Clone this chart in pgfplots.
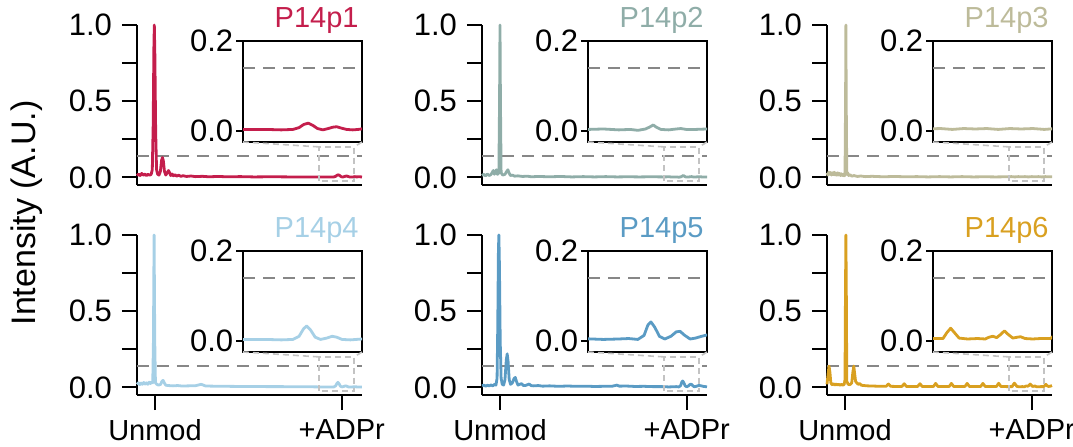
\documentclass[border=0pt]{standalone}
\usepackage{fontspec}
\setmainfont{Liberation Sans}
\usepackage{pgfplots}
\pgfplotsset{compat=1.18}
\usepackage{pgfplotstable}

\definecolor{cA}{RGB}{196,30,76}
\definecolor{cB}{RGB}{143,173,168}
\definecolor{cC}{RGB}{189,187,154}
\definecolor{cD}{RGB}{166,208,230}
\definecolor{cE}{RGB}{90,155,196}
\definecolor{cF}{RGB}{217,160,32}
\definecolor{dashgray}{RGB}{135,135,135}
\definecolor{zoomgray}{RGB}{195,195,195}

\pgfplotstableread{
x y
0 0.012
0.7 0.022
1.4 0.012
2.1 0.026
2.8 0.014
3.5 0.022
4.2 0.012
4.9 0.02
5.6 0.014
6.3 0.02
6.8 0.05
7.2 0.35
7.5 0.85
7.7 1.0
7.95 0.8
8.3 0.3
8.7 0.05
9.2 0.02
9.8 0.015
10.4 0.04
10.9 0.11
11.3 0.13
11.7 0.11
12.2 0.04
12.8 0.015
13.4 0.03
14.0 0.045
14.5 0.03
15.0 0.012
15.6 0.022
16.2 0.01
16.9 0.018
17.6 0.008
18.5 0.014
19.5 0.007
20.5 0.011
22 0.006
24 0.009
26 0.005
29 0.007
32 0.004
36 0.006
40 0.004
46 0.005
52 0.003
60 0.004
68 0.003
76 0.003
81 0.003
84 0.003
86 0.002
87.5 0.003
88.3 0.007
88.9 0.014
89.5 0.017
90.1 0.012
90.7 0.005
91.4 0.002
92.1 0.005
92.7 0.008
93.2 0.009
93.8 0.006
94.5 0.003
95.3 0.002
96 0.003
96.8 0.005
97.5 0.003
98.5 0.004
100 0.003
}\tA

\pgfplotstableread{
x y
0 0.012
0.8 0.02
1.6 0.01
2.4 0.022
3.2 0.012
3.9 0.018
4.5 0.03
5.0 0.045
5.5 0.02
6.0 0.04
6.4 0.05
6.9 0.02
7.5 0.03
7.8 0.5
8.0 1.0
8.2 0.5
8.5 0.03
9.2 0.015
10.2 0.02
11.0 0.04
11.5 0.05
12.0 0.03
12.6 0.012
13.5 0.015
14.5 0.008
16 0.01
18 0.006
20 0.008
22 0.004
25 0.006
30 0.004
35 0.006
40 0.003
45 0.005
50 0.003
55 0.005
60 0.003
65 0.004
70 0.003
75 0.004
81 0.003
83 0.004
85 0.002
86.5 0.003
87.5 0.001
88.5 0.004
89.1 0.009
89.5 0.013
89.9 0.008
90.5 0.003
91.5 0.002
92.5 0.004
93.1 0.005
93.8 0.003
95 0.003
96.5 0.004
98 0.003
100 0.003
}\tB

\pgfplotstableread{
x y
0 0.03
0.4 0.015
0.8 0.035
1.2 0.02
1.6 0.032
2.0 0.015
2.4 0.03
2.8 0.018
3.2 0.034
3.6 0.016
4.0 0.028
4.4 0.014
4.8 0.03
5.2 0.016
5.6 0.026
6.0 0.012
6.4 0.024
6.8 0.012
7.2 0.02
7.6 0.01
8.0 0.015
8.25 0.5
8.4 1.0
8.55 0.5
8.8 0.02
9.2 0.03
9.6 0.012
10.2 0.018
11 0.008
12 0.012
13.5 0.006
15 0.009
17 0.005
20 0.007
25 0.004
30 0.006
35 0.004
40 0.005
45 0.003
50 0.005
55 0.003
60 0.005
65 0.003
70 0.004
75 0.003
80 0.004
82 0.005
83.5 0.003
85 0.005
86.5 0.004
88 0.005
89.5 0.003
91 0.005
92.5 0.004
94 0.005
95.5 0.003
97 0.005
98.5 0.004
100 0.004
}\tC

\pgfplotstableread{
x y
0 0.02
0.6 0.03
1.2 0.018
1.8 0.028
2.4 0.02
3.0 0.032
3.6 0.022
4.2 0.03
4.8 0.02
5.4 0.034
6.0 0.025
6.5 0.035
7.0 0.03
7.3 0.3
7.6 1.0
7.9 0.3
8.2 0.03
8.8 0.02
9.6 0.015
10.5 0.02
11.1 0.04
11.6 0.046
12.1 0.03
12.8 0.014
14 0.012
16 0.01
18 0.012
20 0.009
23 0.01
26 0.011
28.5 0.02
29.3 0.016
30.5 0.009
34 0.008
40 0.007
46 0.006
52 0.006
58 0.005
64 0.005
70 0.004
76 0.004
81 0.003
84 0.003
86 0.002
87.5 0.003
88.3 0.01
88.9 0.027
89.3 0.033
89.8 0.024
90.4 0.008
91.1 0.003
91.9 0.006
92.6 0.01
93.2 0.008
93.9 0.003
95 0.002
96.5 0.004
98 0.003
100 0.003
}\tD

\pgfplotstableread{
x y
0 0.01
0.8 0.015
1.6 0.008
2.4 0.014
3.2 0.01
4.0 0.016
4.8 0.01
5.6 0.02
6.2 0.015
6.7 0.06
7.0 0.4
7.3 0.9
7.5 1.0
7.75 0.8
8.1 0.3
8.5 0.06
9.0 0.02
9.6 0.015
10.2 0.05
10.8 0.18
11.2 0.22
11.6 0.17
12.1 0.05
12.7 0.02
13.5 0.03
14.3 0.06
14.8 0.065
15.3 0.04
16.0 0.015
16.8 0.02
17.6 0.025
18.3 0.013
19.2 0.012
20.3 0.018
21.0 0.022
21.8 0.012
23 0.01
25 0.012
27 0.008
30 0.01
34 0.007
38 0.009
42 0.007
46 0.008
50 0.006
54 0.007
58 0.008
60 0.015
61 0.008
64 0.009
68 0.006
72 0.007
76 0.005
80 0.005
83 0.003
85 0.004
86.3 0.005
87.5 0.003
88.3 0.012
88.8 0.035
89.2 0.042
89.7 0.03
90.3 0.01
91.0 0.004
91.8 0.01
92.5 0.02
93.0 0.021
93.6 0.012
94.3 0.004
95.0 0.006
95.8 0.01
96.5 0.013
97.5 0.01
98.5 0.006
100 0.004
}\tE

\pgfplotstableread{
x y
0 0.02
0.5 0.09
0.9 0.14
1.3 0.1
1.7 0.03
2.2 0.018
2.8 0.025
3.4 0.015
4.0 0.022
4.6 0.016
5.2 0.02
5.8 0.014
6.4 0.02
7.0 0.015
7.6 0.018
8.0 0.05
8.2 0.6
8.4 1.0
8.6 0.6
8.8 0.04
9.4 0.02
10.2 0.018
11.0 0.03
11.5 0.1
11.9 0.14
12.3 0.09
12.7 0.04
13.2 0.03
13.8 0.02
14.5 0.025
15.3 0.014
16.5 0.012
18 0.01
20 0.009
22 0.008
24 0.007
26.3 0.007
27.3 0.022
28.3 0.007
31 0.006
33.3 0.006
34.3 0.024
35.3 0.006
38 0.006
40.3 0.006
41.3 0.024
42.3 0.006
45 0.006
47.3 0.006
48.3 0.026
49.3 0.006
52 0.006
54.3 0.006
55.3 0.026
56.3 0.006
59 0.006
61.3 0.006
62.3 0.026
63.3 0.006
66 0.006
68.3 0.006
69.3 0.026
70.3 0.006
73 0.006
75.3 0.006
76.3 0.027
77.3 0.006
80 0.005
82.3 0.005
82.8 0.018
83.3 0.028
83.8 0.018
84.4 0.006
85.5 0.004
86.8 0.005
87.8 0.004
88.3 0.008
88.8 0.01
89.3 0.007
89.8 0.014
90.3 0.022
90.8 0.014
91.4 0.006
92.0 0.008
92.4 0.009
93.0 0.005
94 0.004
95 0.005
96.3 0.005
96.8 0.012
97.3 0.02
97.8 0.01
98.5 0.006
99.3 0.008
100 0.012
}\tF

\pgfplotsset{
  mainax/.style={
    scale only axis, width=112.5pt, height=80pt,
    xmin=0, xmax=100, ymin=-0.05, ymax=1.0,
    axis x line*=bottom, axis y line*=left,
    axis line style={line width=1.2pt},
    ytick={0,0.5,1}, yticklabels={0.0,0.5,1.0},
    minor ytick={0.25,0.75},
    tick align=outside, major tick length=7.5pt, minor tick length=7.5pt,
    every tick/.style={line width=1.1pt, black},
    xtick=\empty,
    tick label style={font=\fontsize{15.5}{18}\selectfont},
    yticklabel style={xshift=-1.5pt},
    clip=false,
  },
  bottomrow/.style={xtick={8,91}, xticklabels={Unmod,+ADPr},
    xticklabel style={font=\fontsize{14.5}{17}\selectfont, yshift=-1pt}},
  toprow/.style={},
  inax/.style={
    scale only axis, width=59.5pt, height=50.5pt,
    xmin=81, xmax=96.5, ymin=-0.025, ymax=0.2,
    xtick=\empty, ytick={0,0.2}, yticklabels={0.0,0.2},
    ytick pos=left,
    tick align=outside, major tick length=3.5pt,
    axis line style={line width=1.2pt},
    every tick/.style={line width=1.1pt, black},
    axis background/.style={fill=white},
    tick label style={font=\fontsize{15.5}{18}\selectfont},
    yticklabel style={inner xsep=1.2pt},
    clip=true,
  },
  dashref/.style={dashgray, line width=1.25pt, dash pattern=on 6pt off 4pt},
}
\tikzset{zoomline/.style={zoomgray, line width=0.8pt, dash pattern=on 3pt off 2pt}}

% #1 col x, #2 main bottom y, #3 inset bottom y, #4 table, #5 colour, #6 title, #7 row style
\newcommand{\panel}[7]{%
  \begin{axis}[mainax,#7,at={(#1,#2)},anchor=south west]
    \addplot[dashref, forget plot] coordinates {(0,0.14)(100,0.14)};
    \addplot[#5, line width=1.4pt, line join=round] table[x=x,y=y] {#4};
    \draw[zoomline] (axis cs:81,-0.025) rectangle (axis cs:96.5,0.2);
    \coordinate (rl) at (axis cs:81,0.2);
    \coordinate (rr) at (axis cs:96.5,0.2);
  \end{axis}
  \begin{axis}[inax,at={(#1+53pt,#3)},anchor=south west,name=ins]
    \addplot[dashref, forget plot] coordinates {(81,0.14)(96.5,0.14)};
    \addplot[#5, line width=1.4pt, line join=round] table[x=x,y=y] {#4};
  \end{axis}
  \draw[zoomline] (ins.south west) -- (rl);
  \draw[zoomline] (ins.south east) -- (rr);
  \node[anchor=base east, inner sep=0pt, text=#5, font=\fontsize{14.5}{17}\selectfont] at (#1+111pt,#2+79pt) {#6};
}

\begin{document}
\begin{tikzpicture}
  \path[use as bounding box] (0,0) rectangle (536.5pt,223pt);
  \panel{68.5pt}{130.5pt}{152pt}{\tA}{cA}{P14p1}{toprow}
  \panel{241pt}{130.5pt}{152pt}{\tB}{cB}{P14p2}{toprow}
  \panel{413.5pt}{130.5pt}{152pt}{\tC}{cC}{P14p3}{toprow}
  \panel{68.5pt}{25.5pt}{47pt}{\tD}{cD}{P14p4}{bottomrow}
  \panel{241pt}{25.5pt}{47pt}{\tE}{cE}{P14p5}{bottomrow}
  \panel{413.5pt}{25.5pt}{47pt}{\tF}{cF}{P14p6}{bottomrow}
  \node[rotate=90, font=\fontsize{17}{20}\selectfont] at (13.5pt,116.5pt) {Intensity (A.U.)};
\end{tikzpicture}
\end{document}
